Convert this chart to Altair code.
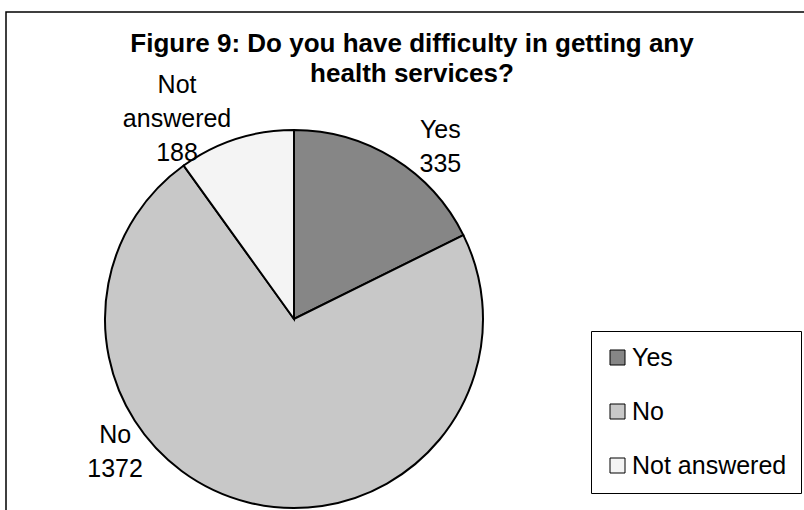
import altair as alt
import pandas as pd

categories = ["Yes", "No", "Not answered"]
counts = [335, 1372, 188]
labels = ["Yes\n335", "No\n1372", "Not\nanswered\n188"]
colors = ["#868686", "#c8c8c8", "#f4f4f4"]

df = pd.DataFrame({
    "category": categories,
    "count": counts,
    "label": labels,
    "order": list(range(len(categories))),
})

FONT = "Liberation Sans"
CX, CY, R = 294, 319, 189

color = alt.Color(
    "category:N",
    scale=alt.Scale(domain=categories, range=colors),
    legend=alt.Legend(
        title=None, orient="none", legendX=591, legendY=331,
        fillColor="white", strokeColor="black", padding=14,
        symbolType="square", symbolSize=225, symbolStrokeColor="black",
        symbolStrokeWidth=1, symbolOpacity=1,
        labelFont=FONT, labelFontSize=25, labelColor="black",
        rowPadding=28, labelOffset=2,
    ),
)

base = alt.Chart(df)

arc = base.mark_arc(outerRadius=R, stroke="black", strokeWidth=2).encode(
    theta=alt.Theta("count:Q", stack=True),
    order=alt.Order("order:O"),
    color=color,
    x=alt.value(CX), y=alt.value(CY),
)

lab_base = base.transform_window(
    cum="sum(count)", sort=[alt.SortField("order")]
).transform_joinaggregate(total="sum(count)").transform_calculate(
    mid="(datum.cum - datum.count/2) / datum.total * 2 * PI"
)

offsets = {"Yes": (33, -18), "No": (-127, -105), "Not answered": (-51, -41)}
texts = []
for cat in categories:
    dx, dy = offsets[cat]
    texts.append(
        lab_base.transform_filter(alt.datum.category == cat).mark_text(
            radius=215, dx=dx, dy=dy, font=FONT, fontSize=25, lineBreak="\n",
            lineHeight=34, align="center", baseline="top", color="black",
        ).encode(
            theta=alt.Theta("mid:Q", scale=None),
            text="label:N",
            x=alt.value(CX), y=alt.value(CY),
        )
    )

frame = alt.Chart(pd.DataFrame({"a": [0]})).mark_rect(
    fill=None, stroke="black", strokeWidth=1.5
).encode(x=alt.value(6), y=alt.value(12), x2=alt.value(830), y2=alt.value(540))

chart = alt.layer(frame, arc, *texts).properties(
    width=804, height=510, padding=0, autosize="none",
    title=alt.TitleParams(
        text=["Figure 9: Do you have difficulty in getting any", "health services?"],
        font=FONT, fontSize=26, fontWeight="bold", anchor="middle",
        dx=10, dy=91, lineHeight=30, color="black",
    ),
).configure_view(stroke=None)

chart.save("out.html", embed_options={"renderer": "svg", "actions": False})
